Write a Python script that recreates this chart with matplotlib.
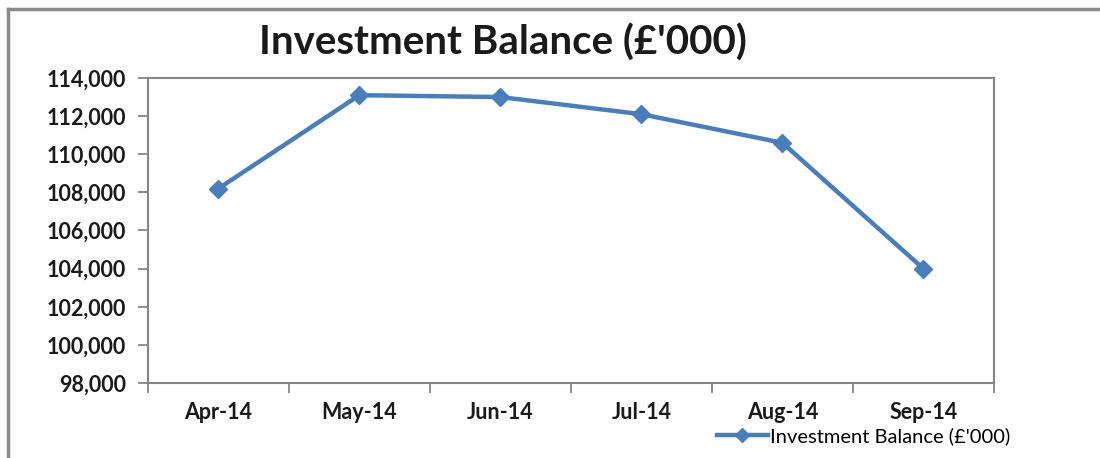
import matplotlib
matplotlib.use("Agg")
import matplotlib.pyplot as plt
from matplotlib.lines import Line2D
from matplotlib.ticker import FuncFormatter

plt.rcParams["font.family"] = ["Lato", "DejaVu Sans"]

months = ["Apr-14", "May-14", "Jun-14", "Jul-14", "Aug-14", "Sep-14"]
balance = [108200, 113100, 113000, 112100, 110600, 104000]
y_ticks = [98000, 100000, 102000, 104000, 106000, 108000, 110000, 112000, 114000]

line_color = "#4A7EBB"
axis_color = "#868686"

fig = plt.figure(figsize=(11, 4.58), dpi=100)
ax = fig.add_axes([0.1345, 0.1638, 0.769, 0.6659])

x = list(range(len(months)))
ax.plot(x, balance, color=line_color, linewidth=3.2, marker="D", markersize=9,
        markeredgecolor=line_color, markerfacecolor=line_color,
        label="Investment Balance (£'000)")

ax.set_xlim(-0.5, len(months) - 0.5)
ax.set_ylim(y_ticks[0], y_ticks[-1])
ax.set_yticks(y_ticks)
ax.yaxis.set_major_formatter(FuncFormatter(lambda v, p: f"{int(v):,}"))

ax.set_xticks(x)
ax.set_xticklabels(months)
ax.set_xticks([i - 0.5 for i in range(len(months) + 1)], minor=True)
ax.tick_params(axis="x", which="major", length=0, pad=14)
ax.tick_params(axis="x", which="minor", length=7, width=1.3, color=axis_color)
ax.tick_params(axis="y", length=7, width=1.3, color=axis_color, pad=9)
for lbl in ax.get_xticklabels() + ax.get_yticklabels():
    lbl.set_fontsize(15.5)
    lbl.set_fontweight("bold")
    lbl.set_color("#1a1a1a")

for s in ax.spines.values():
    s.set_color(axis_color)
    s.set_linewidth(1.5)

fig.text(0.457, 0.908, "Investment Balance (£'000)", ha="center", va="center",
         fontsize=29, fontweight="bold", color="#1a1a1a")

leg = fig.legend(handles=ax.get_lines(), loc="center left", bbox_to_anchor=(0.652, 0.048),
                 frameon=False, fontsize=14.5, handlelength=2.5, handletextpad=0.1,
                 markerscale=0.75, borderpad=0, borderaxespad=0)

# outer chart frame (top and left edges visible)
fig.add_artist(Line2D([0.0075, 1.0], [0.981, 0.981], transform=fig.transFigure,
                      color="#8c8c8c", linewidth=2.5))
fig.add_artist(Line2D([0.0075, 0.0075], [0.0, 0.981], transform=fig.transFigure,
                      color="#8c8c8c", linewidth=2.5))

fig.savefig("out.png", dpi=100)
